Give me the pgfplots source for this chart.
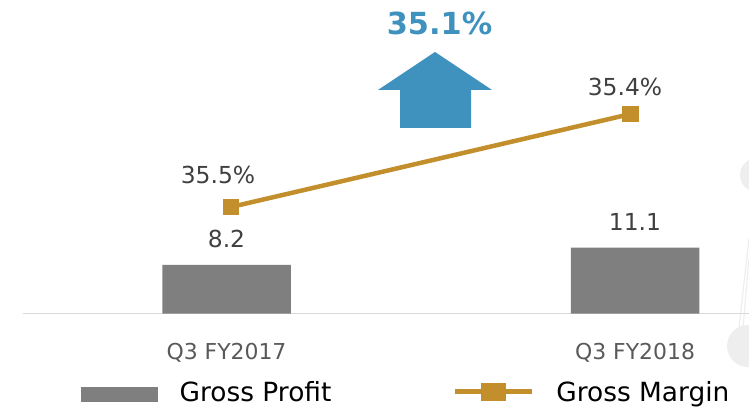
\documentclass[border=0pt]{standalone}
\usepackage{fontspec}
\setmainfont{DejaVu Sans}
\usepackage{pgfplots}
\pgfplotsset{compat=1.18}
\definecolor{barg}{HTML}{7F7F7F}
\definecolor{gold}{HTML}{C28F2C}
\definecolor{arrowblue}{HTML}{3F91BE}
\definecolor{labg}{HTML}{404040}
\definecolor{tickg}{HTML}{595959}
\definecolor{axisg}{HTML}{D9D9D9}
\definecolor{deco}{HTML}{EEEEEE}
\begin{document}
\begin{tikzpicture}
\useasboundingbox (0bp,0bp) rectangle (749bp,408bp);
% faint background decorations at the right edge
\fill[deco] (757bp,233bp) circle (17bp);
\fill[deco] (748bp,62bp) circle (21bp);
\draw[deco, line width=1.2bp] (749bp,170bp) -- (739bp,80bp);
\draw[deco, line width=1.2bp] (749bp,150bp) -- (743bp,80bp);
% growth arrow and headline
\fill[arrowblue] (435bp,356bp) -- (492bp,318bp) -- (471bp,318bp) -- (471bp,280bp)
  -- (400bp,280bp) -- (400bp,318bp) -- (378bp,318bp) -- cycle;
\node[anchor=base, inner sep=0pt, text=arrowblue, font=\fontsize{30.5}{34}\selectfont\bfseries] at (439.5bp,373bp) {35.1\%};
\begin{axis}[
  at={(22.7bp,94.5bp)}, anchor=south west,
  scale only axis, width=726.3bp, height=313.5bp,
  xmin=-0.4989, xmax=1.279, ymin=0, ymax=52.87,
  axis y line=none, axis x line*=bottom,
  x axis line style={draw=axisg, line width=1.5bp, -},
  xtick={0,1}, xticklabels={Q3 FY2017, Q3 FY2018},
  major tick length=0pt,
  xticklabel style={anchor=base, inner sep=0pt, yshift=-45.5bp, text=tickg, font=\fontsize{22}{26}\selectfont},
  clip=false,
  legend columns=2,
  legend cell align=left,
  legend style={at={(0.0799,-0.298)}, anchor=south west, draw=none, fill=none,
    inner sep=0pt, outer sep=0pt, font=\fontsize{26.5}{30}\selectfont,
    nodes={inner sep=0pt, text height=18bp, text depth=5bp},
    /tikz/every odd column/.append style={column sep=22bp},
    /tikz/every even column/.append style={column sep=121bp}},
]
\addplot[ybar, bar width=128.5bp, fill=barg, draw=none,
  nodes near coords, point meta=explicit symbolic,
  nodes near coords style={anchor=base, inner sep=0pt, yshift=17bp, text=labg, font=\fontsize{23.5}{28}\selectfont},
  legend image code/.code={\fill[barg] (0bp,-6.5bp) rectangle (77bp,8.5bp);}]
  coordinates {(0,8.2) [8.2] (1,11.1) [11.1]};
\addlegendentry{Gross Profit}
\addplot[gold, line width=4.5bp, mark=square*, mark size=5.8bp,
  mark options={fill=gold, draw=none},
  legend image code/.code={\draw[gold,line width=5bp] (0bp,3.5bp) -- (77bp,3.5bp); \fill[gold] (28bp,-3.5bp) rectangle (49bp,10.5bp);}]
  coordinates {(0.011,17.96) (0.989,33.64)};
\addlegendentry{Gross Margin}
\addplot[draw=none, mark=none, nodes near coords, point meta=explicit symbolic,
  nodes near coords style={anchor=base, inner sep=0pt, text=labg, font=\fontsize{23.5}{28}\selectfont},
  forget plot]
  coordinates {(-0.0208,21.84) [35.5\%] (0.9755,36.68) [35.4\%]};
\end{axis}
\end{tikzpicture}
\end{document}
